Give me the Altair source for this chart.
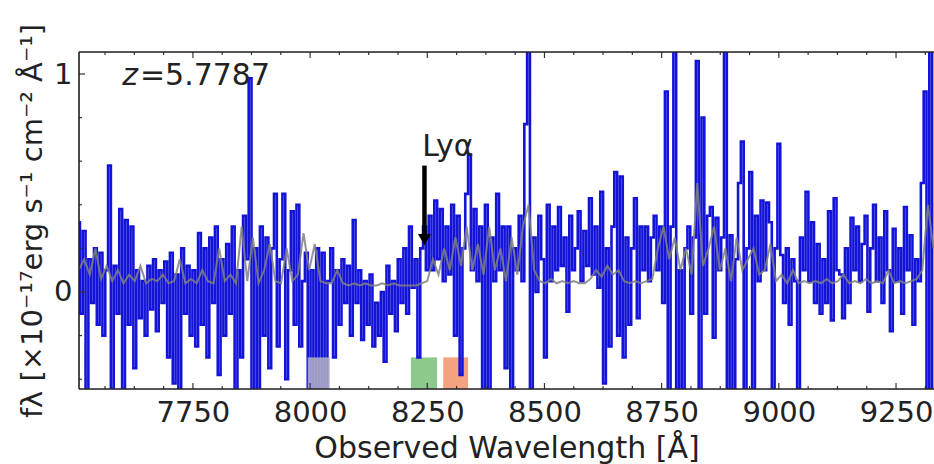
import altair as alt
import pandas as pd

# ---------------- data ----------------
WAVE_START = 7506
WAVE_STEP = 6
flux = [
    # 7506 - 7746
    0.32, -0.10, 0.28, -0.60, 0.15, -0.05, 0.20, -0.15, 0.18, -0.20,
    0.10, 0.58, -0.60, 0.12, -0.10, 0.38, -0.60, 0.33, -0.15, 0.30,
    -0.35, 0.10, -0.12, 0.05, -0.20, 0.12, -0.08, 0.15, -0.18, 0.10,
    -0.05, 0.14, -0.30, 0.18, -0.42, 0.08, -0.60, 0.20, -0.10, 0.12,
    -0.20,
    # 7752 - 7998
    0.10, -0.25, 0.27, -0.15, 0.20, -0.30, 0.25, -0.05, 0.30, -0.38,
    0.15, -0.20, 0.22, -0.10, 0.30, -0.60, 0.10, -0.30, 0.35, 0.15,
    0.98, -0.60, 0.20, -0.60, 0.30, -0.20, 0.25, -0.35, 0.20, 0.45,
    -0.25, 0.15, 0.45, -0.40, 0.10, 0.37, -0.15, 0.40, -0.25, 0.05,
    0.18, -0.60,
    # 8004 - 8250
    0.10, -0.60, 0.20, -0.60, 0.18, -0.45, 0.05, 0.20, -0.30, 0.10,
    -0.15, 0.15, -0.05, 0.12, -0.20, 0.33, -0.05, 0.10, -0.22, 0.05,
    -0.15, 0.08, -0.25, -0.05, -0.20, 0.00, -0.32, 0.12, -0.10, 0.05,
    -0.18, 0.15, -0.05, 0.20, -0.10, 0.30, 0.02, 0.15, -0.30, 0.20,
    0.30, 0.10,
    # 8256 - 8502
    0.35, 0.10, 0.42, 0.15, 0.38, 0.05, 0.30, 0.08, 0.40, -0.20,
    0.35, -0.38, 0.20, 0.45, 0.63, 0.10, 0.38, 0.05, 0.30, -0.60,
    0.40, -0.60, 0.25, 0.05, 0.45, 0.10, 0.30, -0.35, 0.30, -0.60,
    0.20, 0.10, 0.35, 0.05, 0.77, 1.20, -0.60, 0.25, 0.00, 0.35,
    0.15, -0.30,
    # 8508 - 8754
    0.40, 0.05, 0.30, 0.10, 0.39, 0.12, 0.25, -0.09, 0.35, 0.10,
    0.20, 0.37, 0.05, 0.28, 0.12, 0.43, 0.08, 0.30, 0.02, 0.46,
    -0.42, 0.20, -0.25, 0.30, 0.55, -0.20, 0.53, -0.30, 0.25, -0.15,
    0.20, 0.43, -0.12, 0.30, 0.10, 0.30, 0.05, 0.25, 0.35, 0.10,
    0.30, -0.05,
    # 8760 - 9006
    0.92, -0.60, 0.30, 1.20, -0.60, 0.10, -0.60, 0.20, 0.30, -0.10,
    0.25, 1.06, -0.60, 0.80, -0.10, 0.35, 0.39, -0.21, 0.34, 0.10,
    0.25, 1.20, -0.60, 0.26, -0.60, 0.15, 0.50, 0.69, -0.60, 0.20,
    0.55, -0.60, 0.35, 0.05, 0.42, 0.10, 0.41, 0.32, -0.60, 0.20,
    0.68, 0.17,
    # 9012 - 9330
    -0.05, 0.20, -0.15, 0.15, 0.05, -0.60, 0.25, 0.10, 0.46, 0.05,
    0.32, -0.05, 0.22, -0.10, 0.15, -0.05, 0.37, -0.13, 0.43, 0.10,
    0.08, -0.12, 0.20, -0.05, 0.34, 0.10, 0.30, 0.05, 0.22, 0.35,
    -0.09, 0.20, 0.40, 0.05, 0.25, -0.05, 0.37, 0.10, -0.18, 0.29,
    0.05, 0.20, -0.10, 0.39, 0.10, 0.26, -0.15, 0.15, 0.05, 0.50,
    0.92, -0.60, 1.20, -0.60,
]
wave = [WAVE_START + WAVE_STEP * i for i in range(len(flux))]

ERR_START = 7506
ERR_STEP = 12
err = [
    0.10, 0.15, 0.08, 0.20, 0.06, 0.12, 0.05, 0.10, 0.04, 0.08,
    0.05, 0.12, 0.04, 0.06, 0.05, 0.08, 0.04, 0.05, 0.15, 0.04,
    0.06, 0.04, 0.10, 0.05, 0.04, 0.20, 0.05, 0.08, 0.04, 0.30,
    0.05, 0.25, 0.04, 0.10, 0.22, 0.05, 0.04, 0.20, 0.05, 0.08,
    0.27, 0.10, 0.22, 0.05, 0.04, 0.04, 0.10, 0.04, 0.03, 0.04,
    0.03, 0.04, 0.03, 0.03, 0.04, 0.03, 0.04, 0.03, 0.03, 0.03,
    0.03, 0.04, 0.05, 0.15, 0.08, 0.20, 0.10, 0.25, 0.12, 0.30,
    0.10, 0.22, 0.08, 0.30, 0.10, 0.20, 0.05, 0.25, 0.08, 0.30,
    0.40, 0.10, 0.05, 0.04, 0.06, 0.04, 0.05, 0.04, 0.05, 0.04,
    0.04, 0.06, 0.10, 0.07, 0.12, 0.08, 0.10, 0.05, 0.04, 0.05,
    0.04, 0.05, 0.06, 0.20, 0.30, 0.15, 0.25, 0.10, 0.20, 0.08,
    0.50, 0.12, 0.20, 0.30, 0.10, 0.20, 0.05, 0.25, 0.10, 0.15,
    0.20, 0.08, 0.10, 0.22, 0.05, 0.08, 0.04, 0.10, 0.04, 0.05,
    0.04, 0.05, 0.04, 0.06, 0.04, 0.05, 0.08, 0.04, 0.05, 0.04,
    0.06, 0.04, 0.05, 0.04, 0.10, 0.04, 0.05, 0.04, 0.05, 0.06,
    0.10, 0.40, 0.20,
]
err_wave = [ERR_START + ERR_STEP * j for j in range(len(err))]

# shaded bands at the bottom
band_start = [7995, 8215, 8284]
band_end = [8042, 8271, 8337]
band_top = [-0.30, -0.30, -0.30]
band_color = ["#b4b4c4", "#8dc88d", "#f4a27f"]

# annotations
redshift_label = "=5.7787"
lya_wave = 8244
lya_top = 0.58
lya_tip = 0.24

x_major = [7750, 8000, 8250, 8500, 8750, 9000, 9250]
x_minor = [7562.5, 7625, 7687.5, 7812.5, 7875, 7937.5, 8062.5, 8125, 8187.5,
           8312.5, 8375, 8437.5, 8562.5, 8625, 8687.5, 8812.5, 8875, 8937.5,
           9062.5, 9125, 9187.5, 9312.5]
y_major = [0, 1]
y_minor = [-0.4, -0.2, 0.2, 0.4, 0.6, 0.8]

X_DOMAIN = [7507, 9331]
Y_DOMAIN = [-0.445, 1.101]
W, H = 855, 337
FONT = "DejaVu Sans"

# ---------------- chart ----------------
xs = alt.Scale(domain=X_DOMAIN, nice=False, zero=False)
ys = alt.Scale(domain=Y_DOMAIN, nice=False, zero=False)

xax = alt.Axis(values=x_major, format="d", labelFontSize=29, labelColor="#222222",
               labelFont=FONT, ticks=False, domain=False, grid=False, labelPadding=9,
               labelFlush=False, title="Observed Wavelength [Å]", titleFontSize=30,
               titleFont=FONT, titleFontWeight="normal", titleColor="#222222",
               titlePadding=6)
yax = alt.Axis(values=y_major, format="d", labelFontSize=29, labelColor="#222222",
               labelFont=FONT, ticks=False, domain=False, grid=False, labelPadding=7,
               labelFlush=False,
               title="f\u03bb [×10⁻¹⁷erg s⁻¹ cm⁻² Å⁻¹]", titleFontSize=29,
               titleFont=FONT, titleFontWeight="normal", titleColor="#222222",
               titlePadding=6)

spec_df = pd.DataFrame({"wave": wave, "flux": flux})
err_df = pd.DataFrame({"wave": err_wave, "err": err})
band_df = pd.DataFrame({"x1": band_start, "x2": band_end, "top": band_top,
                        "bottom": [Y_DOMAIN[0]] * 3, "color": band_color})

bands_back = alt.Chart(band_df.iloc[1:]).mark_rect(clip=True).encode(
    x=alt.X("x1:Q", scale=xs, axis=xax), x2="x2:Q",
    y=alt.Y("bottom:Q", scale=ys, axis=yax), y2="top:Q",
    color=alt.Color("color:N", scale=None))

spec = alt.Chart(spec_df).mark_line(interpolate="step", color="#1414d8",
                                    strokeWidth=2.6, clip=True).encode(
    x=alt.X("wave:Q", scale=xs, axis=xax),
    y=alt.Y("flux:Q", scale=ys, axis=yax))

errl = alt.Chart(err_df).mark_line(color="#808080", strokeWidth=2, clip=True,
                                   opacity=0.85).encode(
    x=alt.X("wave:Q", scale=xs), y=alt.Y("err:Q", scale=ys))

bands_front = alt.Chart(band_df.iloc[:1]).mark_rect(clip=True, opacity=0.85).encode(
    x=alt.X("x1:Q", scale=xs), x2="x2:Q",
    y=alt.Y("bottom:Q", scale=ys), y2="top:Q",
    color=alt.Color("color:N", scale=None))

ann = pd.DataFrame({"x": [lya_wave], "top": [lya_top], "tip": [lya_tip]})
arrow_line = alt.Chart(ann).mark_rule(color="black", strokeWidth=4.5).encode(
    x=alt.X("x:Q", scale=xs), y=alt.Y("top:Q", scale=ys), y2="tip:Q")
arrow_head = alt.Chart(ann).mark_point(shape="triangle-down", filled=True,
                                       color="black", size=170, opacity=1).encode(
    x=alt.X("x:Q", scale=xs), y=alt.Y("tip:Q", scale=ys))

texts = pd.DataFrame({"x": [7599, 7637, 8239], "y": [0.99, 0.99, 0.665],
                      "t": ["z", redshift_label, "Ly\u03b1"]})
txt_z = alt.Chart(texts.iloc[:1]).mark_text(align="left", baseline="middle",
                                            fontSize=30, font=FONT, fontStyle="italic",
                                            color="#222222").encode(
    x=alt.X("x:Q", scale=xs), y=alt.Y("y:Q", scale=ys), text="t:N")
txt_rest = alt.Chart(texts.iloc[1:]).mark_text(align="left", baseline="middle",
                                               fontSize=30, font=FONT,
                                               color="#222222").encode(
    x=alt.X("x:Q", scale=xs), y=alt.Y("y:Q", scale=ys), text="t:N")

# inward ticks (matplotlib style)
xmaj_df = pd.DataFrame({"v": x_major})
xmin_df = pd.DataFrame({"v": x_minor})
ymaj_df = pd.DataFrame({"v": y_major})
ymin_df = pd.DataFrame({"v": y_minor})

def xticks(df, length):
    bottom = alt.Chart(df).mark_rule(color="#333333", strokeWidth=1.2).encode(
        x=alt.X("v:Q", scale=xs), y=alt.value(H), y2=alt.value(H - length))
    top = alt.Chart(df).mark_rule(color="#333333", strokeWidth=1.2).encode(
        x=alt.X("v:Q", scale=xs), y=alt.value(0), y2=alt.value(length))
    return bottom + top

def yticks(df, length):
    return alt.Chart(df).mark_rule(color="#333333", strokeWidth=1.2).encode(
        y=alt.Y("v:Q", scale=ys), x=alt.value(0), x2=alt.value(length))

one = pd.DataFrame({"a": [0]})
frame_top = alt.Chart(one).mark_rule(color="#222222", strokeWidth=1.6).encode(
    x=alt.value(0), x2=alt.value(W + 5), y=alt.value(0))
frame_bottom = alt.Chart(one).mark_rule(color="#222222", strokeWidth=1.6).encode(
    x=alt.value(0), x2=alt.value(W + 5), y=alt.value(H))
frame_left = alt.Chart(one).mark_rule(color="#222222", strokeWidth=1.6).encode(
    x=alt.value(0), y=alt.value(0), y2=alt.value(H))

chart = alt.layer(
    bands_back, spec, errl, bands_front, arrow_line, arrow_head, txt_z, txt_rest,
    xticks(xmaj_df, 6), xticks(xmin_df, 3), yticks(ymaj_df, 6), yticks(ymin_df, 3),
    frame_top, frame_bottom, frame_left,
).properties(
    width=W, height=H,
    autosize=alt.AutoSizeParams(type="none"),
    padding={"left": 79, "top": 52, "right": 0, "bottom": 75},
).configure_view(stroke=None).configure(background="white")

chart.save("out.html", embed_options={"renderer": "svg", "actions": False})
